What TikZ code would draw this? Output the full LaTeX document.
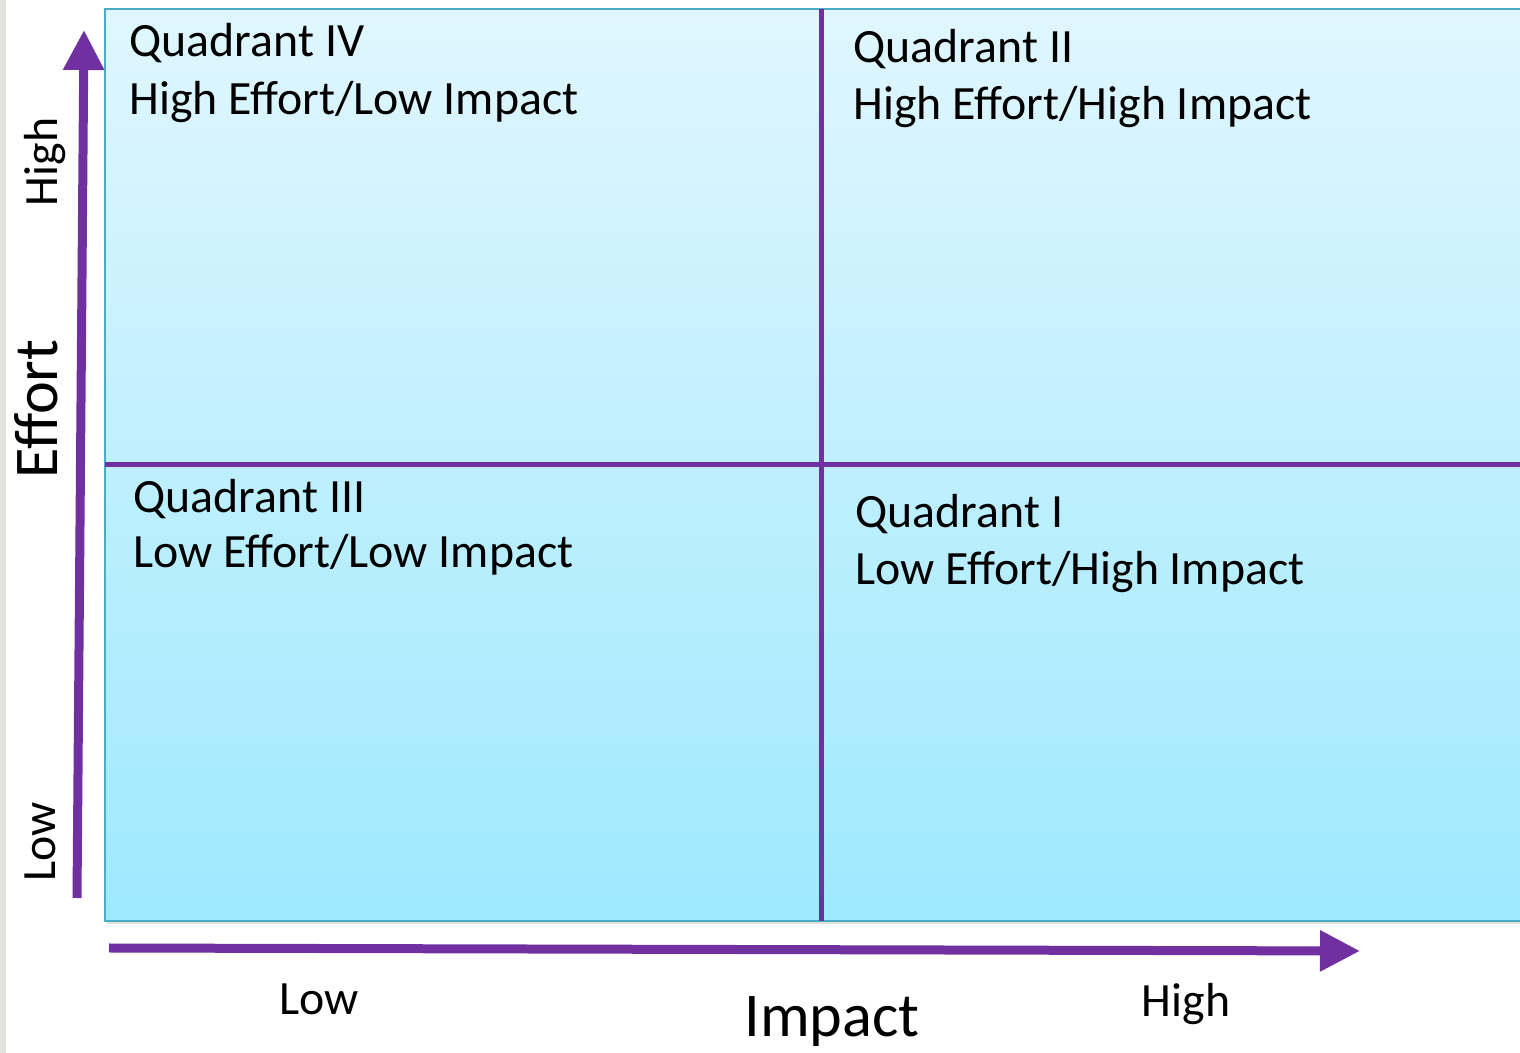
\documentclass[tikz,border=0pt]{standalone}
\usepackage{fontspec}
\setmainfont{Carlito}
\usetikzlibrary{arrows.meta,shadows}
\definecolor{axispurple}{HTML}{7030A0}
\definecolor{boxedge}{HTML}{4BACC6}
\definecolor{boxtop}{HTML}{E0F6FE}
\definecolor{boxbottom}{HTML}{9EE9FE}
\definecolor{stripgray}{HTML}{E2E3DF}
\tikzstyle{qtext} = [inner sep=0pt, anchor=base west, font=\fontsize{13.6}{16}\selectfont]
\tikzstyle{tick} = [inner sep=0pt, anchor=base, font=\fontsize{13.6}{16}\selectfont]
\tikzstyle{axtitle} = [inner sep=0pt, anchor=base, font=\fontsize{17.7}{20}\selectfont]
\tikzstyle{axis} = [draw=axispurple, line width=0.09cm, -{Triangle[length=0.4cm, width=0.39cm]}]
\tikzstyle{divider} = [draw=axispurple, line width=0.05cm]

\begin{document}
\begin{tikzpicture}
\useasboundingbox (0,0) rectangle (15.2,10.53);
\fill[white] (0,0) rectangle (15.2,10.53);
\fill[stripgray] (0,0) rectangle (0.06,10.53);

% Grid
\begin{scope}
\clip (0,0) rectangle (15.2,10.53);
\shade[top color=boxtop, bottom color=boxbottom, draw=boxedge, line width=0.5pt,
  drop shadow={opacity=0.25, shadow xshift=0.02cm, shadow yshift=-0.03cm}]
  (1.05,1.32) rectangle (15.35,10.44);
\coordinate (vtop) at (8.21,10.44);
\coordinate (vbot) at (8.21,1.32);
\coordinate (hleft) at (1.05,5.88);
\coordinate (hright) at (15.35,5.88);
\draw[divider] (vtop) -- (vbot);
\draw[divider] (hleft) -- (hright);
\end{scope}

% Define nodes
\node[qtext] (q4)  at (1.29,9.96) {Quadrant IV};
\node[qtext] (q4s) at (1.29,9.38) {High Effort/Low Impact};
\node[qtext] (q2)  at (8.53,9.90) {Quadrant II};
\node[qtext] (q2s) at (8.53,9.33) {High Effort/High Impact};
\node[qtext] (q3)  at (1.33,5.40) {Quadrant III};
\node[qtext] (q3s) at (1.33,4.85) {Low Effort/Low Impact};
\node[qtext] (q1)  at (8.55,5.25) {Quadrant I};
\node[qtext] (q1s) at (8.55,4.68) {Low Effort/High Impact};

\node[tick, rotate=90]    (yhigh)  at (0.57,8.91) {High};
\node[axtitle, rotate=90] (effort) at (0.58,6.44) {Effort};
\node[tick, rotate=90]    (ylow)   at (0.55,2.11) {Low};

\node[tick]    (xlow)   at (3.19,0.38) {Low};
\node[tick]    (xhigh)  at (11.86,0.36) {High};
\node[axtitle] (impact) at (8.32,0.16) {Impact};

% Axes
\coordinate (yfrom) at (0.77,1.55);
\coordinate (yto)   at (0.84,10.23);
\coordinate (xfrom) at (1.09,1.05);
\coordinate (xto)   at (13.60,1.02);
\draw[axis] (yfrom) -- (yto);
\draw[axis] (xfrom) -- (xto);
\end{tikzpicture}
\end{document}
